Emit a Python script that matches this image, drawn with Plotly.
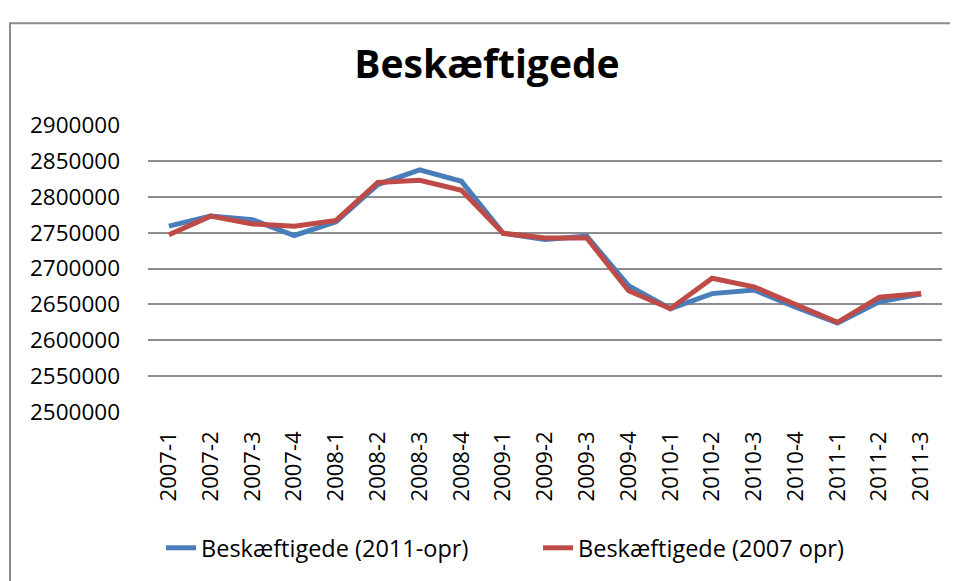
import plotly.graph_objects as go

quarters = ["2007-1", "2007-2", "2007-3", "2007-4", "2008-1", "2008-2", "2008-3", "2008-4",
            "2009-1", "2009-2", "2009-3", "2009-4", "2010-1", "2010-2", "2010-3", "2010-4",
            "2011-1", "2011-2", "2011-3"]
beskaeft_2011 = [2759000, 2773000, 2768000, 2746000, 2765000, 2817000, 2837500, 2821500,
                 2749000, 2740500, 2745000, 2676000, 2644000, 2665000, 2670000, 2646000,
                 2624000, 2653500, 2664500]
beskaeft_2007 = [2747000, 2773000, 2762000, 2759000, 2767000, 2820000, 2823000, 2809000,
                 2749000, 2742500, 2742500, 2669000, 2644000, 2686500, 2674500, 2649000,
                 2625000, 2660000, 2665000]
name_2011 = "Beskæftigede (2011-opr)"
name_2007 = "Beskæftigede (2007 opr)"
title_text = "Beskæftigede"

FONT = "Open Sans"

fig = go.Figure()
fig.add_trace(go.Scatter(x=quarters, y=beskaeft_2011, mode="lines", name=name_2011,
                         line=dict(color="#4a7ebb", width=5)))
fig.add_trace(go.Scatter(x=quarters, y=beskaeft_2007, mode="lines", name=name_2007,
                         line=dict(color="#be4b48", width=5)))

# page is drawn with an 8px body margin; work in figure coordinates
OFF = 8
W, H = 950, 573
L, R, T, B = 148 - OFF, W - (942 - OFF), 125 - OFF, H - (413 - OFF)
pw, ph = W - L - R, H - T - B

def px_x(x):
    return (x - OFF - L) / pw

def px_y(y):
    return (H - B - (y - OFF)) / ph

fig.update_layout(
    width=W, height=H,
    margin=dict(l=L, r=R, t=T, b=B),
    paper_bgcolor="white", plot_bgcolor="white",
    font=dict(family=FONT, color="black"),
    title=dict(text="<b>" + title_text + "</b>", x=px_x(487), xref="paper",
               y=1 - 56 / H, yref="container", xanchor="center", yanchor="middle",
               font=dict(size=39, family=FONT, color="black")),
    xaxis=dict(type="category", range=[-0.5, len(quarters) - 0.5], tickangle=-90,
               showgrid=False, showline=False,
               ticks="", tickfont=dict(size=22, family=FONT, color="black"),
               ticklabelstandoff=14),
    yaxis=dict(range=[2500000, 2900000], dtick=50000, tickformat="d",
               showgrid=True, gridcolor="#8c8c8c", gridwidth=2, zeroline=False,
               showline=False, ticks="", ticklabelstandoff=27,
               tickfont=dict(size=22.5, family=FONT, color="black")),
    showlegend=True,
    legend=dict(orientation="h", x=px_x(161), xanchor="left", y=px_y(548),
                yanchor="middle", font=dict(size=23.5, family=FONT, color="black"),
                entrywidth=332, bgcolor="rgba(0,0,0,0)"),
    shapes=[dict(type="rect", xref="paper", yref="paper",
                 x0=px_x(10), x1=px_x(1000), y0=px_y(700), y1=px_y(23),
                 line=dict(color="#8c8c8c", width=2), fillcolor="rgba(0,0,0,0)", layer="below")],
)

fig.write_html("out.html")
